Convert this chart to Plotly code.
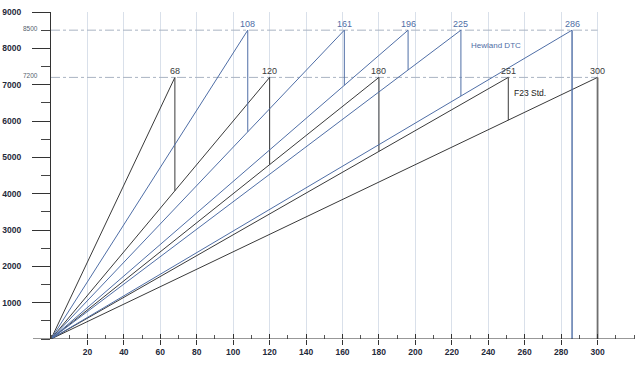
import plotly.graph_objects as go

# Data
f23_gears = [68, 120, 180, 251, 300]        # x at 7200 rpm
f23_rpm = 7200
dtc_gears = [108, 161, 196, 225, 286]       # x at 8500 rpm
dtc_rpm = 8500
x_ticks = [20, 40, 60, 80, 100, 120, 140, 160, 180, 200, 220, 240, 260, 280, 300]
y_ticks = [1000, 2000, 3000, 4000, 5000, 6000, 7000, 8000, 9000]

BLACK = "#3a3a3a"
BLUE = "#4f6ea6"
GRID = "#d9e0ea"
FONT = "Liberation Sans, Arial"

fig = go.Figure()

def add_family(gears, rpm, color, last_color, last_width):
    for i, g in enumerate(gears):
        fig.add_trace(go.Scatter(x=[0, g], y=[0, rpm], mode="lines",
                                 line=dict(color=color, width=1), hoverinfo="skip", showlegend=False))
        if i + 1 < len(gears):
            bottom = rpm * g / gears[i + 1]
            c, w = color, 1
        else:
            bottom = 0
            c, w = last_color, last_width
        fig.add_trace(go.Scatter(x=[g, g], y=[rpm, bottom], mode="lines",
                                 line=dict(color=c, width=w), hoverinfo="skip", showlegend=False))
        fig.add_annotation(x=g, y=rpm, text=str(g), showarrow=False, yshift=6,
                           font=dict(size=9, color=color, family=FONT))

for rpm in [f23_rpm, dtc_rpm]:
    fig.add_trace(go.Scatter(x=[0, 300], y=[rpm, rpm], mode="lines",
                             line=dict(color="#a9b3c2", width=1, dash="dashdot"),
                             hoverinfo="skip", showlegend=False))
    fig.add_annotation(x=0, y=rpm, xref="x", text=str(rpm), showarrow=False, xanchor="right",
                       xshift=-11, yshift=2, font=dict(size=6.5, color="#55606e", family=FONT))

add_family(f23_gears, f23_rpm, BLACK, "#6f6f6f", 1.8)
add_family(dtc_gears, dtc_rpm, BLUE, BLUE, 1.4)

fig.add_annotation(x=244.5, y=8070, text="Hewland DTC", showarrow=False,
                   font=dict(size=8, color=BLUE, family=FONT))
fig.add_annotation(x=263, y=6770, text="F23 Std.", showarrow=False,
                   font=dict(size=8.5, color="#222222", family=FONT))

fig.add_shape(type="line", xref="paper", yref="y", x0=-18/583, x1=1, y0=0, y1=0,
              line=dict(color="#333333", width=1.2))

tickfont = dict(size=8.5, color="#1f2a3a", family=FONT)

fig.update_layout(
    width=640, height=365,
    margin=dict(l=51, r=6, t=12, b=26),
    paper_bgcolor="white", plot_bgcolor="white",
    xaxis=dict(range=[0, 320], tickvals=x_ticks, ticktext=[f"<b>{v}</b>" for v in x_ticks],
               showgrid=True, gridcolor=GRID, gridwidth=1, zeroline=False, automargin=False,
               showline=False, ticks="outside", ticklen=5, tickcolor="#333333",
               tickfont=tickfont,
               minor=dict(dtick=10, tick0=0, ticks="inside", ticklen=4, tickcolor="#555555", showgrid=False)),
    xaxis2=dict(range=[0, 320], overlaying="x", anchor="y", side="bottom", tickvals=x_ticks,
                showticklabels=False, ticks="inside", ticklen=5, tickcolor="#333333", automargin=False,
                showgrid=False, zeroline=False, showline=False),
    yaxis=dict(range=[0, 9000], tickvals=y_ticks, ticktext=[f"<b>{v}</b>" for v in y_ticks],
               showgrid=False, zeroline=False, showline=True, linecolor="#333333", linewidth=1.2,
               automargin=False, ticklabelstandoff=9,
               ticks="outside", ticklen=18, tickcolor="#333333", tickfont=tickfont,
               minor=dict(dtick=500, tick0=0, ticks="outside", ticklen=9, tickcolor="#444444", showgrid=False)),
)
fig.add_trace(go.Scatter(x=[0], y=[0], xaxis="x2", mode="markers", marker=dict(opacity=0),
                         hoverinfo="skip", showlegend=False))

fig.write_html("out.html", config={"displayModeBar": False},
               post_script="document.body.style.margin='0';")
